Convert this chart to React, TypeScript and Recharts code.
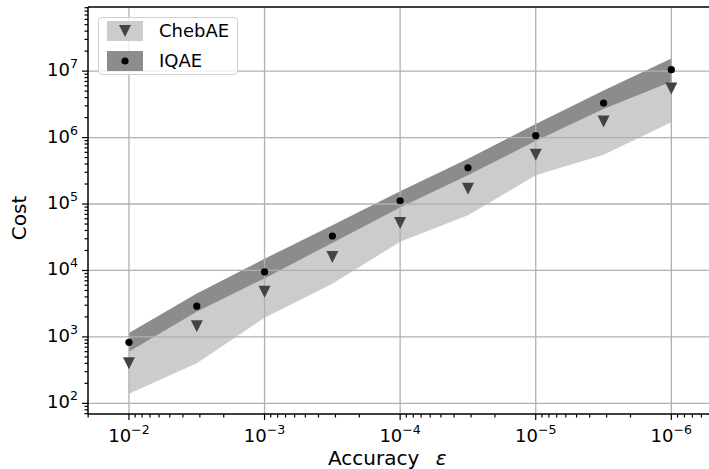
import React from 'react';
import { ComposedChart, Area, Line, XAxis, YAxis, ReferenceLine } from 'recharts';

// accuracy targets (x) and cost statistics (y)
const epsilons = [1e-2, 3.16e-3, 1e-3, 3.16e-4, 1e-4, 3.16e-5, 1e-5, 3.16e-6, 1e-6];
const iqaeMean = [830, 2900, 9500, 33000, 112000, 350000, 1.07e6, 3.3e6, 1.05e7];
const iqaeHigh = [1150, 4500, 15000, 48000, 155000, 480000, 1.6e6, 5.1e6, 1.55e7];
const iqaeLow = [600, 2400, 7600, 26000, 89000, 270000, 890000, 2.7e6, 6.9e6];
const chebMean = [400, 1450, 4800, 16000, 52000, 170000, 550000, 1.75e6, 5.5e6];
const chebHigh = [600, 2400, 7600, 26000, 89000, 270000, 890000, 2.7e6, 6.9e6];
const chebLow = [140, 400, 1950, 6300, 27000, 68000, 270000, 550000, 1.7e6];

// axis decades (exponents of 10)
const xDecades = [2, 3, 4, 5, 6]; // shown as 10^-n
const yDecades = [2, 3, 4, 5, 6, 7];
const minorMult = [2, 3, 4, 5, 6, 7, 8, 9];

const X_MIN = 1.698;
const X_MAX = 6.3;
const Y_MIN = 1.84;
const Y_MAX = 7.965;

const FONT = '"DejaVu Sans", sans-serif';

const lg = (v: number) => Math.log10(v);

const data = epsilons.map((e, i) => ({
  u: -lg(e),
  iqae: lg(iqaeMean[i]),
  cheb: lg(chebMean[i]),
  iqaeBand: [lg(iqaeLow[i]), lg(iqaeHigh[i])],
  chebBand: [lg(chebLow[i]), lg(chebHigh[i])],
}));

const xTicks: number[] = [...xDecades];
for (let n = 2; n <= 7; n++) {
  minorMult.forEach((k) => {
    const u = n - lg(k);
    if (u >= X_MIN && u <= X_MAX) xTicks.push(u);
  });
}
xTicks.sort((a, b) => a - b);

const yTicks: number[] = [...yDecades];
for (let n = 1; n <= 7; n++) {
  minorMult.forEach((k) => {
    const v = n + lg(k);
    if (v >= Y_MIN && v <= Y_MAX) yTicks.push(v);
  });
}
yTicks.sort((a, b) => a - b);

const isMajor = (v: number) => Math.abs(v - Math.round(v)) < 1e-9;

const XTick = (props: any) => {
  const { x, y, payload } = props;
  const v = payload.value;
  const major = isMajor(v);
  return (
    <g>
      <line x1={x} x2={x} y1={y} y2={y + (major ? 6 : 3.5)} stroke="#000" strokeWidth={1.2} />
      {major && (
        <text x={x} y={y + 28} textAnchor="middle" fontFamily={FONT} fontSize={18} fill="#000">
          10<tspan fontSize={12.6} dy={-8}>{'\u2212' + Math.round(v)}</tspan>
        </text>
      )}
    </g>
  );
};

const YTick = (props: any) => {
  const { x, y, payload } = props;
  const v = payload.value;
  const major = isMajor(v);
  return (
    <g>
      <line x1={x - (major ? 6 : 3.5)} x2={x} y1={y} y2={y} stroke="#000" strokeWidth={1.2} />
      {major && (
        <text x={x - 10} y={y + 5} textAnchor="end" fontFamily={FONT} fontSize={18} fill="#000">
          10<tspan fontSize={12.6} dy={-8}>{Math.round(v)}</tspan>
        </text>
      )}
    </g>
  );
};

const TriangleDot = (props: any) => {
  const { cx, cy, key } = props;
  if (cx == null || cy == null) return <g key={key} />;
  const s = 6;
  return <path key={key} d={`M${cx - s},${cy - s}L${cx + s},${cy - s}L${cx},${cy + s}Z`} fill="#444" />;
};

const CircleDot = (props: any) => {
  const { cx, cy, key } = props;
  if (cx == null || cy == null) return <g key={key} />;
  return <circle key={key} cx={cx} cy={cy} r={3.6} fill="#000" />;
};

const legendItems = [
  { label: 'ChebAE', bg: '#cccccc', marker: 'tri' },
  { label: 'IQAE', bg: '#8c8c8c', marker: 'dot' },
];

const LegendBox = () => (
  <div
    style={{
      position: 'absolute',
      left: 98,
      top: 17,
      width: 140,
      height: 58,
      boxSizing: 'border-box',
      border: '1px solid #d0d0d0',
      borderRadius: 4,
      background: 'rgba(255,255,255,0.8)',
      fontFamily: FONT,
      fontSize: 18,
    }}
  >
    {legendItems.map((it, i) => (
      <div key={it.label} style={{ position: 'absolute', left: 8, top: 3 + i * 30, height: 20, display: 'flex', alignItems: 'center' }}>
        <svg width={36} height={20} style={{ display: 'block' }}>
          <rect x={0} y={0} width={36} height={20} fill={it.bg} />
          {it.marker === 'tri' ? (
            <path d="M12,4L24,4L18,16Z" fill="#444" />
          ) : (
            <circle cx={18} cy={10} r={3.6} fill="#000" />
          )}
        </svg>
        <span style={{ marginLeft: 16, lineHeight: '20px', color: '#000' }}>{it.label}</span>
      </div>
    ))}
  </div>
);

export default function App() {
  return (
    <div style={{ position: 'absolute', left: 0, top: 0, width: 709, height: 469, overflow: 'hidden', background: '#fff' }}>
      <ComposedChart width={720} height={469} data={data} margin={{ top: 7, right: 8, left: 0, bottom: 0 }}>
        <XAxis
          type="number"
          dataKey="u"
          domain={[X_MIN, X_MAX]}
          allowDataOverflow
          ticks={xTicks}
          interval={0}
          tickSize={0}
          tickMargin={0}
          tickLine={false}
          tick={<XTick />}
          axisLine={{ stroke: '#000', strokeWidth: 1.5 }}
          height={55}
          label={{
            content: () => (
              <text x={328} y={465} textAnchor="start" fontFamily={FONT} fontSize={20} fill="#000">
                Accuracy <tspan dx={10} fontStyle="italic">ε</tspan>
              </text>
            ),
          }}
        />
        <YAxis
          type="number"
          domain={[Y_MIN, Y_MAX]}
          allowDataOverflow
          ticks={yTicks}
          interval={0}
          tickSize={0}
          tickMargin={0}
          tickLine={false}
          tick={<YTick />}
          axisLine={{ stroke: '#000', strokeWidth: 1.5 }}
          width={88}
          label={{
            content: () => (
              <text x={26} y={218} transform="rotate(-90 26 218)" textAnchor="middle" fontFamily={FONT} fontSize={20} fill="#000">
                Cost
              </text>
            ),
          }}
        />
        {xDecades.map((d) => (
          <ReferenceLine key={'gx' + d} x={d} stroke="#b0b0b0" strokeWidth={1.3} />
        ))}
        {yDecades.map((d) => (
          <ReferenceLine key={'gy' + d} y={d} stroke="#b0b0b0" strokeWidth={1.3} />
        ))}
        <ReferenceLine y={Y_MAX} stroke="#000" strokeWidth={1.5} />
        <Area
          type="linear"
          dataKey="chebBand"
          stroke="none"
          fill="#808080"
          fillOpacity={0.4}
          isAnimationActive={false}
          activeDot={false}
        />
        <Area
          type="linear"
          dataKey="iqaeBand"
          stroke="none"
          fill="#404040"
          fillOpacity={0.6}
          isAnimationActive={false}
          activeDot={false}
        />
        <Line type="linear" dataKey="cheb" stroke="none" dot={<TriangleDot />} activeDot={false} isAnimationActive={false} />
        <Line type="linear" dataKey="iqae" stroke="none" dot={<CircleDot />} activeDot={false} isAnimationActive={false} />
      </ComposedChart>
      <LegendBox />
    </div>
  );
}
